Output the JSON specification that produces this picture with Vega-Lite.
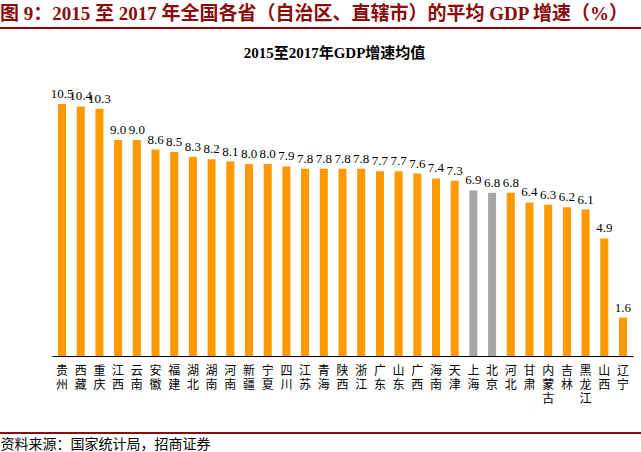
{
  "$schema": "https://vega.github.io/schema/vega-lite/v6.json",
  "width": 641,
  "height": 288,
  "autosize": "none",
  "padding": {"left": 0, "right": 0, "top": 68, "bottom": 96},
  "background": "white",
  "config": {"view": {"stroke": null}},
  "title": {
    "text": "图 9：2015 至 2017 年全国各省（自治区、直辖市）的平均 GDP 增速（%）",
    "anchor": "start",
    "frame": "group",
    "offset": 0,
    "dy": -3,
    "font": "Liberation Serif, Noto Sans CJK SC",
    "fontSize": 19,
    "fontWeight": "bold",
    "color": "#8B0A0A"
  },
  "data": {
    "values": [
      {"prov": "贵州", "val": 10.5, "grp": "省"},
      {"prov": "西藏", "val": 10.4, "grp": "省"},
      {"prov": "重庆", "val": 10.3, "grp": "省"},
      {"prov": "江西", "val": 9.0, "grp": "省"},
      {"prov": "云南", "val": 9.0, "grp": "省"},
      {"prov": "安徽", "val": 8.6, "grp": "省"},
      {"prov": "福建", "val": 8.5, "grp": "省"},
      {"prov": "湖北", "val": 8.3, "grp": "省"},
      {"prov": "湖南", "val": 8.2, "grp": "省"},
      {"prov": "河南", "val": 8.1, "grp": "省"},
      {"prov": "新疆", "val": 8.0, "grp": "省"},
      {"prov": "宁夏", "val": 8.0, "grp": "省"},
      {"prov": "四川", "val": 7.9, "grp": "省"},
      {"prov": "江苏", "val": 7.8, "grp": "省"},
      {"prov": "青海", "val": 7.8, "grp": "省"},
      {"prov": "陕西", "val": 7.8, "grp": "省"},
      {"prov": "浙江", "val": 7.8, "grp": "省"},
      {"prov": "广东", "val": 7.7, "grp": "省"},
      {"prov": "山东", "val": 7.7, "grp": "省"},
      {"prov": "广西", "val": 7.6, "grp": "省"},
      {"prov": "海南", "val": 7.4, "grp": "省"},
      {"prov": "天津", "val": 7.3, "grp": "省"},
      {"prov": "上海", "val": 6.9, "grp": "京沪"},
      {"prov": "北京", "val": 6.8, "grp": "京沪"},
      {"prov": "河北", "val": 6.8, "grp": "省"},
      {"prov": "甘肃", "val": 6.4, "grp": "省"},
      {"prov": "内蒙古", "val": 6.3, "grp": "省"},
      {"prov": "吉林", "val": 6.2, "grp": "省"},
      {"prov": "黑龙江", "val": 6.1, "grp": "省"},
      {"prov": "山西", "val": 4.9, "grp": "省"},
      {"prov": "辽宁", "val": 1.6, "grp": "省"}
    ]
  },
  "resolve": {"axis": {"x": "independent"}},
  "layer": [
    {
      "mark": {"type": "bar"},
      "encoding": {
        "x": {
          "field": "prov",
          "type": "nominal",
          "sort": null,
          "scale": {"range": [52, 633], "paddingInner": 0.57, "paddingOuter": 0.32},
          "axis": {
            "orient": "bottom",
            "domain": true,
            "domainColor": "#000000",
            "domainWidth": 1,
            "ticks": false,
            "labelAngle": 0,
            "labelExpr": "split(datum.label, '')",
            "labelFont": "Noto Sans CJK SC",
            "labelFontSize": 12,
            "labelLineHeight": 14,
            "labelColor": "#000000",
            "labelPadding": 9,
            "labelBaseline": "top",
            "title": "资料来源：国家统计局，招商证券",
            "titleFont": "Noto Sans CJK SC",
            "titleFontSize": 14,
            "titleFontWeight": "normal",
            "titleColor": "#000000",
            "titleAnchor": "start",
            "titleAlign": "left",
            "titleX": 0,
            "titleY": 92,
            "titleBaseline": "alphabetic"
          }
        },
        "y": {
          "field": "val",
          "type": "quantitative",
          "scale": {"domain": [0, 12], "nice": false},
          "axis": null
        },
        "color": {
          "field": "grp",
          "type": "nominal",
          "scale": {"domain": ["省", "京沪"], "range": ["#FF9900", "#A6A6A6"]},
          "legend": null
        }
      }
    },
    {
      "mark": {"type": "text", "baseline": "alphabetic", "dy": -6, "font": "Liberation Serif", "fontSize": 13, "color": "#000000"},
      "encoding": {
        "x": {
          "field": "prov",
          "type": "nominal",
          "sort": null,
          "axis": {
            "orient": "top",
            "domain": false,
            "ticks": false,
            "labels": false,
            "grid": false,
            "title": "2015至2017年GDP增速均值",
            "titleFont": "Liberation Serif, Noto Sans CJK SC",
            "titleFontSize": 15,
            "titleFontWeight": "bold",
            "titleColor": "#000000",
            "titleX": 334,
            "titleY": -11,
            "titleBaseline": "alphabetic"
          }
        },
        "y": {"field": "val", "type": "quantitative"},
        "text": {"field": "val", "type": "quantitative", "format": ".1f"}
      }
    },
    {
      "mark": {"type": "rule", "color": "#8B0A0A", "strokeWidth": 1.5},
      "encoding": {"y": {"datum": 13.667}}
    },
    {
      "mark": {"type": "rule", "color": "#8B0A0A", "strokeWidth": 1.2},
      "encoding": {"y": {"datum": -3.208}}
    }
  ]
}
